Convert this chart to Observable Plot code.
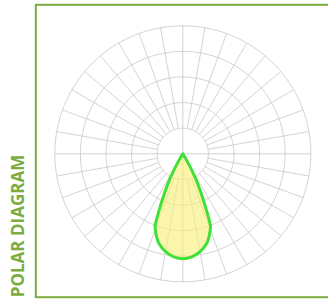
<!DOCTYPE html>
<html>
<head>
<meta charset="utf-8">
<script src="https://cdn.jsdelivr.net/npm/d3@7"></script>
<script src="https://cdn.jsdelivr.net/npm/@observablehq/plot@0.6"></script>
<style>
  html, body { margin: 0; padding: 0; background: #fff; }
</style>
</head>
<body>
<div id="chart"></div>
<script>
// Data
const title = "POLAR DIAGRAM";
const ringValues = [100, 200, 300, 400, 500];
const spokeAngles = d3.range(0, 360, 10);
const lobeAngles = [0, 5, 10, 15, 17.5, 20, 21, 22.5, 25, 27.5, 30, 32];
const lobeValues = [410, 404, 388, 362, 340, 314, 302, 248, 168, 106, 40, 0];

const rad = d => d * Math.PI / 180;
const maxV = d3.max(ringValues);
const innerV = ringValues[0];

// polar -> cartesian (angle measured from the downward vertical)
const px = (v, a) => v * Math.sin(rad(a));
const py = (v, a) => v * Math.cos(rad(a));

const ringPts = ringValues.flatMap(r => d3.range(0, 361, 2).map(a => ({r, a})));
const spokes = spokeAngles.map(a => ({a, r1: a % 90 === 0 ? 0 : innerV, r2: maxV}));

// mirrored lobe: from -max angle through 0 to +max angle
const lobe = [];
for (let i = lobeAngles.length - 1; i >= 0; i--) lobe.push({a: -lobeAngles[i], v: lobeValues[i]});
for (let i = 1; i < lobeAngles.length; i++) lobe.push({a: lobeAngles[i], v: lobeValues[i]});

const green = "#7dab3f";
const cx = 182.3, cy = 153.3, R = 128;

const chart = Plot.plot({
  width: 328,
  height: 304,
  marginLeft: 35.3,
  marginTop: 4.3,
  marginBottom: 7.3,
  marginRight: -4,
  style: {fontFamily: "'Open Sans', sans-serif", background: "#fff"},
  x: {domain: [-maxV, maxV], range: [cx - R, cx + R], axis: null},
  y: {domain: [-maxV, maxV], range: [cy - R, cy + R], axis: null},
  marks: [
    Plot.line(ringPts, {x: d => px(d.r, d.a), y: d => py(d.r, d.a), z: "r", stroke: "#c8c8c8", strokeWidth: 0.8}),
    Plot.link(spokes, {
      x1: d => px(d.r1, d.a), y1: d => py(d.r1, d.a),
      x2: d => px(d.r2, d.a), y2: d => py(d.r2, d.a),
      stroke: "#c8c8c8", strokeWidth: 0.8
    }),
    Plot.line(lobe, {
      x: d => px(d.v, d.a), y: d => py(d.v, d.a),
      curve: "catmull-rom",
      fill: "#f9ef78", fillOpacity: 0.62,
      stroke: "#40e038", strokeWidth: 3
    }),
    Plot.frame({stroke: green, strokeWidth: 2}),
    Plot.text([title], {
      frameAnchor: "bottom-left", rotate: -90, textAnchor: "start", lineAnchor: "middle",
      dx: -17, fontSize: 17, fontWeight: "bold", fill: green
    })
  ]
});
document.getElementById("chart").appendChild(chart);
</script>
</body>
</html>
